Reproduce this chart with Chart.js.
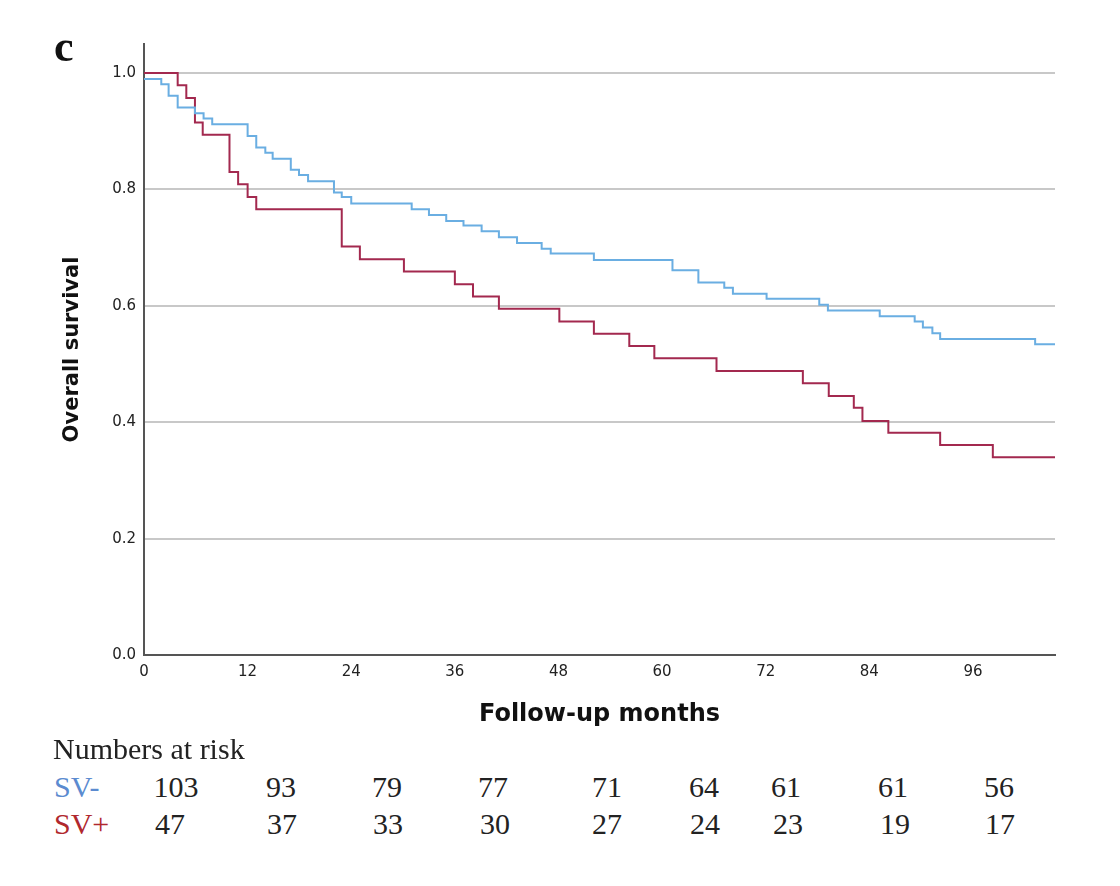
<!DOCTYPE html>
<html>
<head>
<meta charset="utf-8">
<script src="https://cdn.jsdelivr.net/npm/chart.js@4"></script>
<style>
  body { margin: 0; background: #fff; }
  #wrap { position: relative; width: 1120px; height: 886px; }
  #chart { position: absolute; left: 0; top: 0; }
  .txt { position: absolute; font-family: "Liberation Serif", "DejaVu Serif", serif; font-size: 30px; line-height: 30px; color: #222; white-space: nowrap; }
  .num { width: 80px; text-align: center; }
  #panel { font-size: 44px; line-height: 44px; font-weight: bold; color: #111; }
</style>
</head>
<body>
<div id="wrap">
  <canvas id="chart" width="1120" height="740"></canvas>
  <div id="panel" class="txt" style="left:54px; top:25px;">c</div>
  <div class="txt" style="left:53px; top:734px;">Numbers at risk</div>
  <div class="txt" style="left:54px; top:772px; color:#5b8bd0;">SV-</div>
  <div class="txt" style="left:54px; top:809px; color:#b0282e;">SV+</div>
</div>
<script>
// survival steps (months, survival after the event)
const svMinusMonths = [0, 2.0, 2.85, 3.9, 5.9, 6.9, 7.9, 12.0, 13.0, 14.05, 14.9, 17.0, 17.95, 19.0, 22.0, 22.9, 24.0,
    31.0, 33.0, 35.0, 37.0, 39.1, 41.1, 43.2, 46.05, 47.1, 52.1, 61.2, 64.2, 67.2, 68.2, 72.1, 78.2, 79.2,
    85.2, 89.25, 90.2, 91.3, 92.2, 103.2, 105.5];
const svMinusSurv = [0.990, 0.981, 0.961, 0.941, 0.931, 0.922, 0.912, 0.892, 0.872, 0.863, 0.853, 0.834, 0.825, 0.814, 0.795, 0.787, 0.776,
    0.766, 0.756, 0.746, 0.738, 0.728, 0.718, 0.708, 0.698, 0.690, 0.679, 0.661, 0.640, 0.631, 0.621, 0.612, 0.602, 0.592,
    0.582, 0.573, 0.563, 0.553, 0.543, 0.534, 0.534];

const svPlusMonths = [0, 3.9, 4.9, 5.9, 6.8, 9.9, 10.9, 12.0, 13.0, 22.9, 25.0, 30.1, 36.0, 38.1, 41.1, 48.1,
    52.1, 56.2, 59.1, 66.3, 76.3, 79.3, 82.2, 83.2, 86.2, 92.2, 98.3, 105.5];
const svPlusSurv = [1.0, 0.979, 0.957, 0.915, 0.894, 0.830, 0.809, 0.787, 0.766, 0.702, 0.680, 0.659, 0.637, 0.616, 0.595, 0.573,
    0.552, 0.531, 0.510, 0.488, 0.467, 0.445, 0.425, 0.402, 0.382, 0.361, 0.340, 0.340];

const xTickValues = [0, 12, 24, 36, 48, 60, 72, 84, 96];
const yTickValues = [0, 0.2, 0.4, 0.6, 0.8, 1.0];

const svMinusAtRisk = [103, 93, 79, 77, 71, 64, 61, 61, 56];
const svPlusAtRisk = [47, 37, 33, 30, 27, 24, 23, 19, 17];

// where the at-risk columns sit on the page (layout only)
const riskColMinus = [176, 281, 387, 493, 607, 704, 786, 893, 999];
const riskColPlus = [170, 282, 388, 495, 607, 705, 788, 895, 1000];

function toPoints(xs, ys) {
    return xs.map((x, i) => ({ x: x, y: ys[i] }));
}

function addRiskRow(values, cols, top) {
    const wrap = document.getElementById('wrap');
    values.forEach((v, i) => {
        const d = document.createElement('div');
        d.className = 'txt num';
        d.style.left = (cols[i] - 40) + 'px';
        d.style.top = top + 'px';
        d.textContent = v;
        wrap.appendChild(d);
    });
}
addRiskRow(svMinusAtRisk, riskColMinus, 772);
addRiskRow(svPlusAtRisk, riskColPlus, 809);

const tickFont = { family: '"DejaVu Sans", sans-serif', size: 15 };

new Chart(document.getElementById('chart').getContext('2d'), {
    type: 'line',
    data: {
        datasets: [
            {
                label: 'SV-',
                data: toPoints(svMinusMonths, svMinusSurv),
                borderColor: '#6aaee2',
                borderWidth: 2,
                stepped: 'before',
                pointRadius: 0,
                fill: false
            },
            {
                label: 'SV+',
                data: toPoints(svPlusMonths, svPlusSurv),
                borderColor: '#a3294f',
                borderWidth: 2,
                stepped: 'before',
                pointRadius: 0,
                fill: false
            }
        ]
    },
    options: {
        responsive: false,
        animation: false,
        layout: { padding: { left: 56, top: 44, right: 65, bottom: 7 } },
        plugins: { legend: { display: false }, tooltip: { enabled: false } },
        scales: {
            x: {
                type: 'linear',
                min: 0,
                max: 105.5,
                afterBuildTicks: s => { s.ticks = xTickValues.map(v => ({ value: v })); },
                afterFit: s => { s.height = 78; },
                grid: { display: false, drawTicks: false },
                border: { color: '#555', width: 2 },
                ticks: { font: tickFont, color: '#222', padding: 8, maxRotation: 0 },
                title: {
                    display: true,
                    text: 'Follow-up months',
                    font: { family: '"DejaVu Sans", sans-serif', size: 24, weight: 'bold' },
                    color: '#111'
                }
            },
            y: {
                min: 0,
                max: 1.05,
                afterBuildTicks: s => { s.ticks = yTickValues.map(v => ({ value: v })); },
                afterFit: s => { s.width = 88; },
                grid: { color: '#c8c8c8', lineWidth: 2, drawTicks: false },
                border: { color: '#555', width: 2 },
                ticks: { font: tickFont, color: '#222', padding: 8, callback: v => v.toFixed(1) },
                title: {
                    display: true,
                    text: 'Overall survival',
                    font: { family: '"DejaVu Sans", sans-serif', size: 21, weight: 'bold' },
                    color: '#111'
                }
            }
        }
    }
});
</script>
</body>
</html>
